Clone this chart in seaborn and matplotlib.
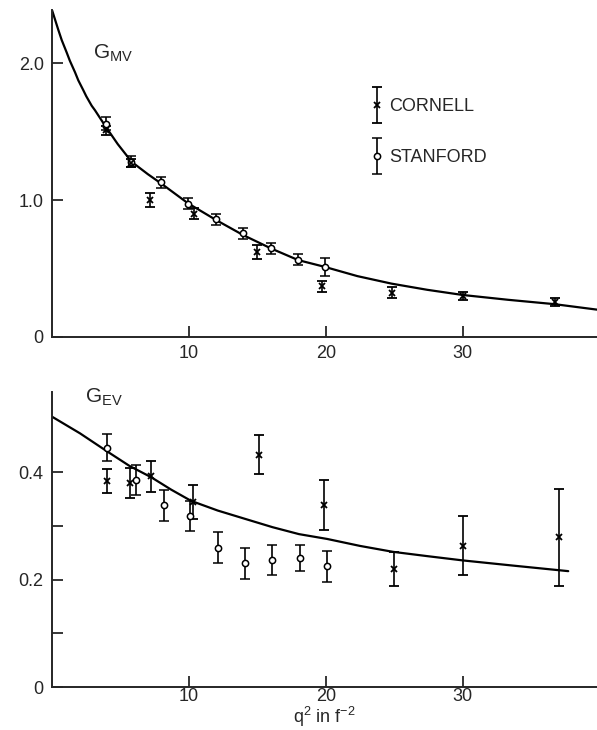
import matplotlib
matplotlib.use("Agg")
import matplotlib.pyplot as plt
import seaborn as sns
import numpy as np
import pandas as pd
from matplotlib.legend_handler import HandlerErrorbar

# --- G_MV (top panel) ---
mv_curve_q = [0, 0.46, 0.71, 1.07, 1.3, 1.68, 1.92, 2.28, 2.5, 2.9, 3.14, 3.87, 4.8, 5.82, 7.0, 8.0, 9.95, 12.0, 13.96, 16.0, 17.98, 19.9, 22.3, 24.8, 27.4, 30.0, 33.3, 36.7, 39.8]
mv_curve_g = [2.39, 2.245, 2.17, 2.08, 2.02, 1.935, 1.876, 1.805, 1.76, 1.69, 1.657, 1.545, 1.41, 1.28, 1.19, 1.12, 0.976, 0.854, 0.745, 0.647, 0.562, 0.513, 0.445, 0.39, 0.345, 0.307, 0.272, 0.24, 0.20]

mv_stan_q = [3.94, 5.8, 7.96, 9.95, 11.97, 13.96, 16.0, 18.0, 19.9]
mv_stan_g = [1.56, 1.28, 1.13, 0.975, 0.86, 0.757, 0.65, 0.565, 0.513]
mv_stan_err = [0.045, 0.04, 0.04, 0.04, 0.04, 0.04, 0.04, 0.04, 0.065]

mv_corn_q = [3.94, 5.77, 7.15, 10.4, 14.98, 19.7, 24.8, 30.0, 36.7]
mv_corn_g = [1.51, 1.27, 1.0, 0.90, 0.62, 0.372, 0.323, 0.30, 0.258]
mv_corn_err = [0.03, 0.03, 0.05, 0.04, 0.05, 0.04, 0.04, 0.03, 0.03]

# --- G_EV (bottom panel) ---
ev_curve_q = [0, 2.04, 3.98, 5.67, 7.25, 8.7, 10.16, 12.1, 14.16, 16.1, 18.04, 20.1, 22.5, 24.9, 27.4, 30.0, 33.8, 37.7]
ev_curve_g = [0.504, 0.473, 0.44, 0.412, 0.391, 0.368, 0.347, 0.329, 0.313, 0.298, 0.285, 0.276, 0.263, 0.252, 0.244, 0.236, 0.226, 0.216]

ev_stan_q = [4.02, 6.1, 8.15, 10.1, 12.15, 14.1, 16.05, 18.1, 20.1]
ev_stan_g = [0.446, 0.386, 0.339, 0.318, 0.26, 0.231, 0.236, 0.24, 0.225]
ev_stan_err = [0.025, 0.028, 0.029, 0.028, 0.029, 0.029, 0.028, 0.024, 0.029]

ev_corn_q = [4.02, 5.67, 7.25, 10.3, 15.1, 19.85, 25.0, 30.0, 37.0]
ev_corn_g = [0.384, 0.381, 0.393, 0.345, 0.433, 0.339, 0.22, 0.263, 0.279]
ev_corn_err = [0.022, 0.028, 0.029, 0.032, 0.036, 0.047, 0.031, 0.055, 0.09]

sns.set_style("ticks")
plt.rcParams["font.family"] = ["Liberation Sans", "DejaVu Sans"]
plt.rcParams["mathtext.default"] = "regular"

fig = plt.figure(figsize=(5.97, 7.3), dpi=100)
ax1 = fig.add_axes([52 / 597, 1 - 337 / 730, 545 / 597, 327 / 730])
ax2 = fig.add_axes([52 / 597, 1 - 687 / 730, 545 / 597, 295 / 730])


def draw_panel(ax, cq, cg, sq, sg, se, kq, kg, ke):
    sns.lineplot(x=cq, y=cg, ax=ax, color="black", linewidth=1.6, sort=False)
    st = ax.errorbar(sq, sg, yerr=se, fmt="o", ms=4.5, mfc="white", mec="black",
                     mew=1.1, ecolor="black", elinewidth=1.2, capsize=3.5, capthick=1.2,
                     label="STANFORD", zorder=3)
    co = ax.errorbar(kq, kg, yerr=ke, fmt="x", ms=4.5, mec="black", mew=1.3,
                     ecolor="black", elinewidth=1.2, capsize=3.5, capthick=1.2,
                     label="CORNELL", zorder=3)
    ax.set_xlim(0, 39.8)
    sns.despine(ax=ax)
    for s in ("left", "bottom"):
        ax.spines[s].set_linewidth(1.4)
    ax.tick_params(direction="in", length=8, width=1.3, labelsize=13, pad=6)
    ax.set_xticks([10, 20, 30])
    return st, co


st, co = draw_panel(ax1, mv_curve_q, mv_curve_g, mv_stan_q, mv_stan_g, mv_stan_err,
                    mv_corn_q, mv_corn_g, mv_corn_err)
ax1.set_ylim(0, 2.39)
ax1.set_yticks([0, 1, 2])
ax1.set_yticklabels(["0", "1.0", "2.0"])
ax1.text(3.0, 2.07, r"G$_{MV}$", fontsize=15, va="center")

leg = ax1.legend([co, st], ["CORNELL", "STANFORD"], loc="upper left",
                 bbox_to_anchor=(0.556, 0.78), frameon=False, fontsize=13,
                 handlelength=0.6, handletextpad=0.4, labelspacing=1.9,
                 handler_map={type(co): HandlerErrorbar(xerr_size=0.5, yerr_size=1.0)})

draw_panel(ax2, ev_curve_q, ev_curve_g, ev_stan_q, ev_stan_g, ev_stan_err,
           ev_corn_q, ev_corn_g, ev_corn_err)
ax2.set_ylim(0, 0.55)
ax2.set_yticks([0, 0.1, 0.2, 0.3, 0.4])
ax2.set_yticklabels(["0", "", "0.2", "", "0.4"])
ax2.tick_params(axis="x", pad=1)
ax2.text(2.4, 0.54, r"G$_{EV}$", fontsize=15, va="center")
ax2.set_xlabel(r"q$^{2}$ in f$^{-2}$", fontsize=13, labelpad=0)

fig.savefig("out.png", dpi=100, facecolor="white")
